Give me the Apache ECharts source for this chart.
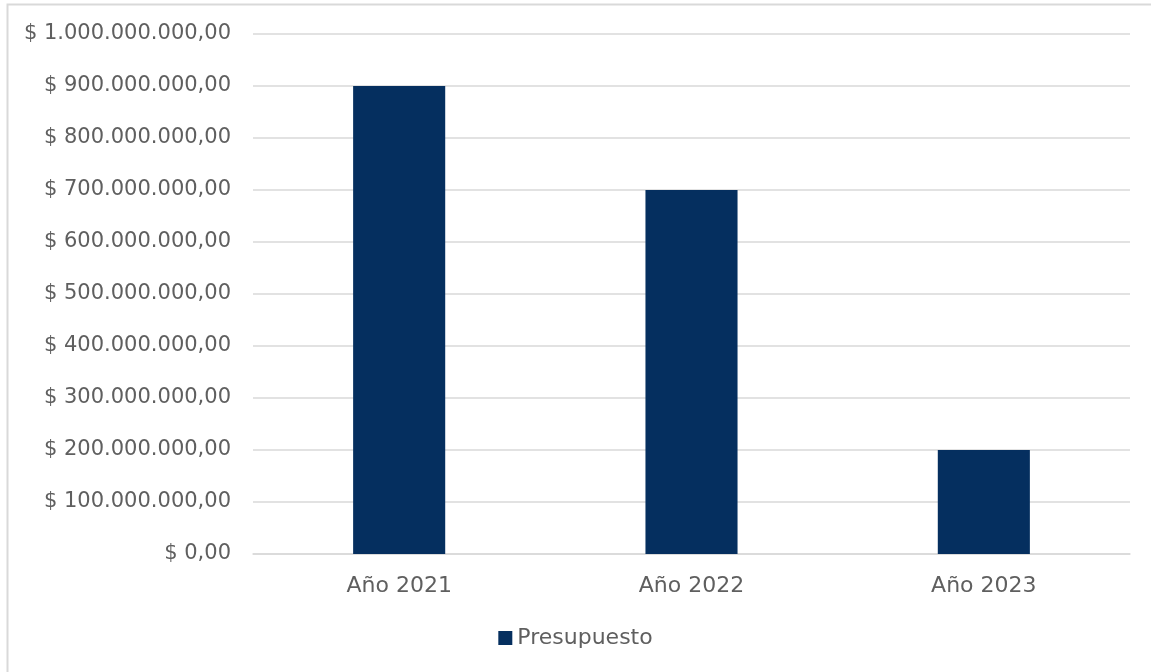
<!DOCTYPE html>
<html><head><meta charset="utf-8">
<script src="https://cdn.jsdelivr.net/npm/echarts@6/dist/echarts.min.js"></script>
<style>html,body{margin:0;padding:0;background:#fff}#c{width:1151px;height:672px}</style>
</head><body><div id="c"></div>
<script>
const categories = ['Año 2021', 'Año 2022', 'Año 2023'];
const seriesName = 'Presupuesto';
const values = [900000000, 700000000, 200000000];
const yMax = 1000000000;
const yInterval = 100000000;

function fmt(v) {
  const s = Math.round(v).toString().replace(/\B(?=(\d{3})+(?!\d))/g, '.');
  return '$ ' + s + ',00';
}

const chart = echarts.init(document.getElementById('c'), null, {renderer: 'canvas'});
const font = '"DejaVu Sans", sans-serif';
chart.setOption({
  animation: false,
  backgroundColor: '#fff',
  graphic: [{
    type: 'rect', shape: {x: 7.5, y: 4.5, width: 1160, height: 680},
    style: {fill: 'none', stroke: '#d9d9d9', lineWidth: 2}, silent: true
  }],
  grid: {left: 253, right: 21, top: 34, bottom: 118, containLabel: false},
  legend: {
    bottom: 18, left: 'center',
    icon: 'rect', itemWidth: 14, itemHeight: 14, itemGap: 6,
    textStyle: {color: '#5f5f5f', fontSize: 22, fontFamily: font},
    data: [seriesName]
  },
  xAxis: {
    type: 'category', data: categories,
    axisLine: {lineStyle: {color: '#d9d9d9', width: 1.5}},
    axisTick: {show: false},
    axisLabel: {color: '#5f5f5f', fontSize: 22, fontFamily: font, margin: 21}
  },
  yAxis: {
    type: 'value', min: 0, max: yMax, interval: yInterval,
    axisLine: {show: false}, axisTick: {show: false},
    splitLine: {lineStyle: {color: '#d9d9d9', width: 1.5}},
    axisLabel: {color: '#5f5f5f', fontSize: 21, fontFamily: font, margin: 22, formatter: fmt}
  },
  series: [{
    name: seriesName, type: 'bar', data: values, barWidth: '31.5%',
    itemStyle: {color: '#052F5F'}
  }]
});
</script></body></html>
